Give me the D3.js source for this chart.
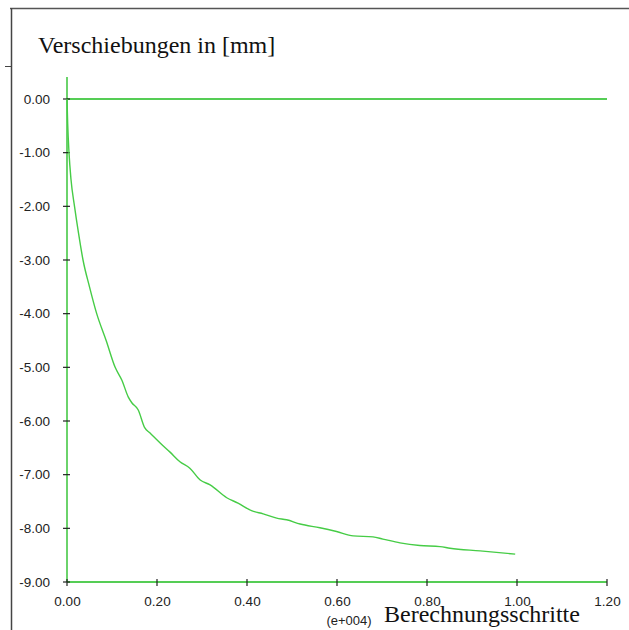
<!DOCTYPE html>
<html><head><meta charset="utf-8">
<script src="https://cdn.jsdelivr.net/npm/d3@7/dist/d3.min.js"></script>
<style>body{margin:0;background:#fff;}svg{display:block;}</style>
</head><body>
<script>
// Data (x in units of 1e4 calculation steps, y displacement in mm)
const steps = [0,0.0015,0.0044,0.0089,0.0167,0.0256,0.0356,0.050,0.066,0.087,0.107,0.122,0.136,0.144,0.158,0.173,0.184,0.207,0.229,0.251,0.273,0.296,0.318,0.355,0.380,0.410,0.436,0.466,0.488,0.518,0.562,0.599,0.636,0.680,0.702,0.740,0.784,0.829,0.851,0.918,0.996];
const displacement = [0,-0.45,-0.99,-1.5,-2.0,-2.5,-3.0,-3.5,-4.0,-4.5,-5.0,-5.24,-5.55,-5.66,-5.79,-6.13,-6.22,-6.41,-6.58,-6.76,-6.88,-7.10,-7.19,-7.43,-7.53,-7.67,-7.73,-7.81,-7.84,-7.92,-7.99,-8.06,-8.14,-8.16,-8.20,-8.27,-8.32,-8.34,-8.37,-8.42,-8.48];
const xTicks = [0,0.2,0.4,0.6,0.8,1.0,1.2];
const yTicks = [0,-1,-2,-3,-4,-5,-6,-7,-8,-9];
const titleY = "Verschiebungen in [mm]";
const titleX = "Berechnungsschritte";
const expLabel = "(e+004)";

const W = 629, H = 630;
const svg = d3.select("body").append("svg").attr("width", W).attr("height", H);

// outer frame
svg.append("line").attr("x1",10).attr("x2",629).attr("y1",8.5).attr("y2",8.5).attr("stroke","#555").attr("stroke-width",1.5);
svg.append("line").attr("x1",11.5).attr("x2",11.5).attr("y1",8).attr("y2",630).attr("stroke","#444").attr("stroke-width",1.5);
svg.append("line").attr("x1",5).attr("x2",12).attr("y1",66.5).attr("y2",66.5).attr("stroke","#444").attr("stroke-width",1);

const x = d3.scaleLinear().domain([0,1.2]).range([67,607]);
const y = d3.scaleLinear().domain([0,-9]).range([99,582]);
const axisGreen = "#1cbc1c";
const curveGreen = "#46cc46";
const sans = "Liberation Sans, Arial, sans-serif";
const serif = "Liberation Serif, Times New Roman, serif";
const fmt = d => (Math.abs(d) < 1e-9 ? 0 : d).toFixed(2);

// y axis line (green), extends above 0
svg.append("line").attr("x1",x(0)).attr("x2",x(0)).attr("y1",77).attr("y2",y(-9)).attr("stroke",axisGreen).attr("stroke-width",1.3);
// x axis line
svg.append("line").attr("x1",x(0)).attr("x2",x(1.2)).attr("y1",y(-9)).attr("y2",y(-9)).attr("stroke",axisGreen).attr("stroke-width",1.3);
// zero line
svg.append("line").attr("x1",x(0)).attr("x2",x(1.2)).attr("y1",y(0)).attr("y2",y(0)).attr("stroke",axisGreen).attr("stroke-width",1.3);

// y ticks
const yAxis = d3.axisLeft(y).tickValues(yTicks).tickFormat(fmt).tickSize(0).tickPadding(17);
const gy = svg.append("g").attr("transform",`translate(${x(0)},0)`).call(yAxis);
gy.select(".domain").remove();
gy.selectAll("text").attr("font-family",sans).attr("font-size",13.5).attr("fill","#222");
svg.selectAll(".ytk").data(yTicks).enter().append("line")
  .attr("x1",x(0)-4).attr("x2",x(0)+3).attr("y1",d=>y(d)).attr("y2",d=>y(d)).attr("stroke","#222").attr("stroke-width",1.2);

// x ticks
const xAxis = d3.axisBottom(x).tickValues(xTicks).tickFormat(fmt).tickSize(0).tickPadding(14);
const gx = svg.append("g").attr("transform",`translate(0,${y(-9)})`).call(xAxis);
gx.select(".domain").remove();
gx.selectAll("text").attr("font-family",sans).attr("font-size",13.5).attr("fill","#222");
svg.selectAll(".xtk").data(xTicks).enter().append("line")
  .attr("x1",d=>x(d)).attr("x2",d=>x(d)).attr("y1",y(-9)-3).attr("y2",y(-9)+4).attr("stroke","#222").attr("stroke-width",1.2);

// curve
const line = d3.line().x((d,i)=>x(steps[i])).y(d=>y(d)).curve(d3.curveMonotoneX);
svg.append("path").datum(displacement).attr("d",line).attr("fill","none").attr("stroke",curveGreen).attr("stroke-width",1.4);

// titles
svg.append("text").attr("x",38).attr("y",53).attr("font-family",serif).attr("font-size",24).attr("fill","#111").text(titleY);
svg.append("text").attr("x",384).attr("y",622).attr("font-family",serif).attr("font-size",24).attr("fill","#111").text(titleX);
svg.append("text").attr("x",349).attr("y",625).attr("text-anchor","middle").attr("font-family",sans).attr("font-size",13).attr("fill","#222").text(expLabel);
</script>
</body></html>
